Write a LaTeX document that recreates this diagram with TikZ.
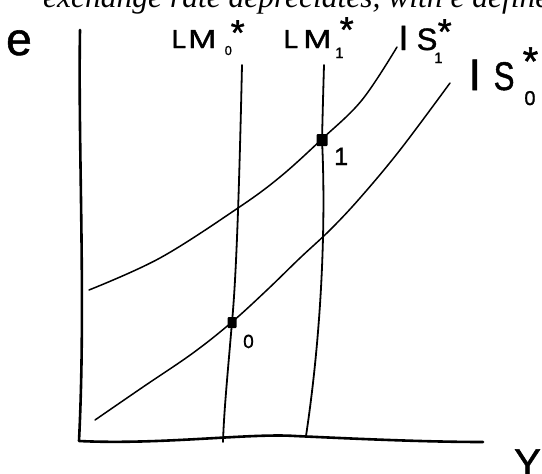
\documentclass[tikz,border=0pt]{standalone}
\usepackage{fontspec}
\usepackage{graphicx}
\usetikzlibrary{calc}
\setmainfont{Liberation Serif}
\newfontfamily\hand[FakeBold=1.2]{Liberation Sans}
\newcommand{\fs}[1]{\fontsize{#1}{#1}\selectfont}
% place #2 at horizontal offset #1 from the node's start, without taking width
\newcommand{\putat}[2]{\rlap{\hspace{#1}#2}}
\begin{document}
\begin{tikzpicture}[x=1pt,y=-1pt,
  axisline/.style={line width=2.6pt, line cap=round, line join=round},
  lmline/.style={line width=1.8pt, line cap=round},
  isline/.style={line width=1.5pt, line cap=round},
  lbl/.style={inner sep=0pt, anchor=base west, font=\hand},
  blob/.style={fill=black, rounded corners=1pt}]
\useasboundingbox (0,0) rectangle (542,474);
% title (cut off at the top edge, as in the reference)
\node[inner sep=0pt, anchor=base west, font=\itshape\fs{31.5}] (title) at (43,7.3) {exchange rate depreciates, with e defined};
% axes
\coordinate (ytop) at (80,30);
\coordinate (origin) at (79,441);
\coordinate (xend) at (483,442);
\draw[axisline] (ytop) .. controls (78,150) and (86,300) .. (origin)
  .. controls (160,445) and (250,433) .. (295,436)
  .. controls (340,438) and (420,442) .. (xend);
% LM curves
\coordinate (lm0top) at (242,65);
\coordinate (p0) at (232,322);
\coordinate (lm0bot) at (223,442);
\coordinate (lm1top) at (324,65);
\coordinate (p1) at (322,140);
\coordinate (lm1bot) at (306,436);
\draw[lmline] (lm0top) .. controls (239,200) and (236,280) .. (p0) .. controls (228,370) and (224,410) .. (lm0bot);
\draw[lmline] (lm1top) .. controls (323,100) .. (p1) .. controls (326,220) and (322,330) .. (lm1bot);
% IS curves
\draw[isline] plot[smooth, tension=0.6] coordinates {(89,290) (160,258) (238,208) (280,177) (322,139) (362,100) (397,47)};
\draw[isline] plot[smooth, tension=0.6] coordinates {(95,420) (143,387) (193,353) (232,322) (267,290) (300,258) (330,230) (360,198) (400,150) (450,83)};
% equilibrium points
\fill[blob] ($(p1)+(-5.5,-6)$) rectangle ($(p1)+(5.5,6)$);
\fill[blob] ($(p0)+(-4.5,-5)$) rectangle ($(p0)+(4.5,6)$);
% labels
\node[lbl, font=\hand\fs{46}] (elbl) at (6,55) {e};
\node[lbl, font=\hand\fs{26}] (lm0) at (171,48) {%
  \putat{0pt}{L}%
  \putat{16.5pt}{\scalebox{1.3}[1]{M}}%
  \putat{53pt}{\raisebox{-7pt}{\fs{13}0}}%
  \putat{59pt}{\raisebox{3pt}{\fs{36}*}}%
  \hspace{72pt}};
\node[lbl, font=\hand\fs{26}] (lm1) at (283,48) {%
  \putat{0pt}{L}%
  \putat{19.6pt}{\scalebox{1.3}[1]{M}}%
  \putat{51.5pt}{\raisebox{-10pt}{\fs{15}1}}%
  \putat{56pt}{\raisebox{6pt}{\fs{36}*}}%
  \hspace{69pt}};
\node[lbl, font=\hand\fs{31}] (is1) at (398,50) {%
  \putat{0pt}{\fs{35}I}%
  \putat{18pt}{S}%
  \putat{35.5pt}{\raisebox{-13pt}{\fs{15}1}}%
  \putat{39pt}{\raisebox{6pt}{\fs{36}*}}%
  \hspace{52pt}};
\node[lbl, font=\hand\fs{40}] (is0) at (468,90) {%
  \putat{0pt}{\fs{44}I}%
  \putat{25pt}{\scalebox{0.78}[1]{S}}%
  \putat{55.7pt}{\raisebox{-15pt}{\fs{20}0}}%
  \putat{54pt}{\raisebox{15pt}{\fs{40}*}}%
  \hspace{70pt}};
\node[lbl, font=\hand\fs{25}] (lbl1) at (334,165) {1};
\node[lbl, font=\hand\fs{19}] (lbl0) at (243,348) {0};
\node[lbl, font=\hand\fs{40}] (ylbl) at (514,477) {Y};
\end{tikzpicture}
\end{document}
